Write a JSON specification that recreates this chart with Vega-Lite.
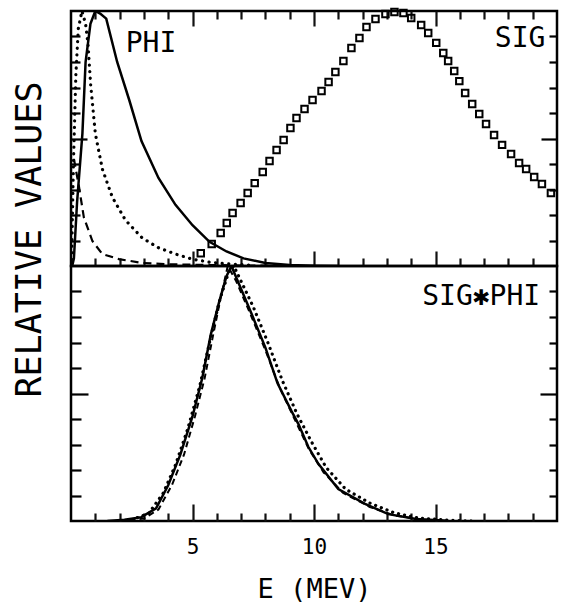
{
  "$schema": "https://vega.github.io/schema/vega-lite/v6.json",
  "padding": {"left": 10, "top": 3, "right": 5, "bottom": 0},
  "config": {
    "view": {"stroke": "#000", "strokeWidth": 2.5},
    "font": "DejaVu Sans Mono",
    "axis": {"domain": false, "grid": false, "tickColor": "#000", "tickWidth": 2.2, "labelColor": "#000", "titleColor": "#000", "labelFont": "DejaVu Sans Mono", "titleFont": "DejaVu Sans Mono", "titleFontWeight": "normal"},
    "text": {"font": "DejaVu Sans Mono", "color": "#000"}
  },
  "spacing": 0,
  "bounds": "flush",
  "datasets": {
    "phi": [
      {"E": 0.05, "v": 0, "curve": "solid"}, {"E": 0.12, "v": 0.03, "curve": "solid"}, {"E": 0.25, "v": 0.25, "curve": "solid"}, {"E": 0.47, "v": 0.52, "curve": "solid"}, {"E": 0.6, "v": 0.8, "curve": "solid"}, {"E": 0.8, "v": 0.95, "curve": "solid"}, {"E": 1.0, "v": 1.0, "curve": "solid"}, {"E": 1.2, "v": 0.99, "curve": "solid"}, {"E": 1.45, "v": 0.97, "curve": "solid"}, {"E": 1.9, "v": 0.8, "curve": "solid"}, {"E": 2.4, "v": 0.65, "curve": "solid"}, {"E": 2.9, "v": 0.49, "curve": "solid"}, {"E": 3.6, "v": 0.345, "curve": "solid"}, {"E": 4.3, "v": 0.24, "curve": "solid"}, {"E": 5.0, "v": 0.16, "curve": "solid"}, {"E": 5.7, "v": 0.095, "curve": "solid"}, {"E": 6.4, "v": 0.057, "curve": "solid"}, {"E": 7.1, "v": 0.03, "curve": "solid"}, {"E": 8.0, "v": 0.012, "curve": "solid"}, {"E": 9.0, "v": 0.004, "curve": "solid"}, {"E": 10.0, "v": 0.001, "curve": "solid"}, {"E": 11.0, "v": 0, "curve": "solid"},
      {"E": 0.02, "v": 0, "curve": "dotted"}, {"E": 0.1, "v": 0.4, "curve": "dotted"}, {"E": 0.2, "v": 0.75, "curve": "dotted"}, {"E": 0.3, "v": 0.93, "curve": "dotted"}, {"E": 0.45, "v": 1.0, "curve": "dotted"}, {"E": 0.6, "v": 0.95, "curve": "dotted"}, {"E": 0.7, "v": 0.87, "curve": "dotted"}, {"E": 0.81, "v": 0.71, "curve": "dotted"}, {"E": 1.0, "v": 0.52, "curve": "dotted"}, {"E": 1.29, "v": 0.38, "curve": "dotted"}, {"E": 1.7, "v": 0.27, "curve": "dotted"}, {"E": 2.24, "v": 0.18, "curve": "dotted"}, {"E": 2.93, "v": 0.11, "curve": "dotted"}, {"E": 3.61, "v": 0.071, "curve": "dotted"}, {"E": 4.3, "v": 0.047, "curve": "dotted"}, {"E": 4.98, "v": 0.027, "curve": "dotted"}, {"E": 5.7, "v": 0.015, "curve": "dotted"}, {"E": 6.5, "v": 0.008, "curve": "dotted"}, {"E": 7.5, "v": 0.003, "curve": "dotted"},
      {"E": 0.12, "v": 0.42, "curve": "dashed"}, {"E": 0.33, "v": 0.31, "curve": "dashed"}, {"E": 0.53, "v": 0.19, "curve": "dashed"}, {"E": 0.88, "v": 0.098, "curve": "dashed"}, {"E": 1.29, "v": 0.047, "curve": "dashed"}, {"E": 1.97, "v": 0.027, "curve": "dashed"}, {"E": 2.93, "v": 0.012, "curve": "dashed"}, {"E": 4.0, "v": 0.007, "curve": "dashed"}, {"E": 5.5, "v": 0.004, "curve": "dashed"}, {"E": 7.0, "v": 0.002, "curve": "dashed"}, {"E": 8.5, "v": 0.001, "curve": "dashed"}
    ],
    "sig": [
      {"E": 5.34, "v": 0.05}, {"E": 5.79, "v": 0.086}, {"E": 6.16, "v": 0.129}, {"E": 6.41, "v": 0.169}, {"E": 6.65, "v": 0.208}, {"E": 6.98, "v": 0.247}, {"E": 7.27, "v": 0.286}, {"E": 7.56, "v": 0.325}, {"E": 7.89, "v": 0.369}, {"E": 8.17, "v": 0.412}, {"E": 8.46, "v": 0.455}, {"E": 8.75, "v": 0.494}, {"E": 9.03, "v": 0.541}, {"E": 9.28, "v": 0.58}, {"E": 9.61, "v": 0.616}, {"E": 9.94, "v": 0.651}, {"E": 10.31, "v": 0.686}, {"E": 10.6, "v": 0.722}, {"E": 10.88, "v": 0.761}, {"E": 11.21, "v": 0.804}, {"E": 11.54, "v": 0.855}, {"E": 11.87, "v": 0.894}, {"E": 12.16, "v": 0.937}, {"E": 12.53, "v": 0.969}, {"E": 12.94, "v": 0.988}, {"E": 13.31, "v": 0.996}, {"E": 13.68, "v": 0.992}, {"E": 14.0, "v": 0.973}, {"E": 14.41, "v": 0.945}, {"E": 14.7, "v": 0.914}, {"E": 15.03, "v": 0.875}, {"E": 15.32, "v": 0.835}, {"E": 15.52, "v": 0.804}, {"E": 15.77, "v": 0.765}, {"E": 15.98, "v": 0.725}, {"E": 16.22, "v": 0.678}, {"E": 16.51, "v": 0.635}, {"E": 16.8, "v": 0.596}, {"E": 17.08, "v": 0.557}, {"E": 17.41, "v": 0.514}, {"E": 17.74, "v": 0.475}, {"E": 18.11, "v": 0.439}, {"E": 18.44, "v": 0.404}, {"E": 18.73, "v": 0.38}, {"E": 19.06, "v": 0.349}, {"E": 19.38, "v": 0.322}, {"E": 19.75, "v": 0.286}
    ],
    "prod": [
      {"E": 1.5, "v": 0, "curve": "solid"}, {"E": 2.2, "v": 0.005, "curve": "solid"}, {"E": 2.9, "v": 0.015, "curve": "solid"}, {"E": 3.5, "v": 0.05, "curve": "solid"}, {"E": 4.0, "v": 0.14, "curve": "solid"}, {"E": 4.5, "v": 0.26, "curve": "solid"}, {"E": 5.0, "v": 0.41, "curve": "solid"}, {"E": 5.4, "v": 0.56, "curve": "solid"}, {"E": 5.75, "v": 0.73, "curve": "solid"}, {"E": 6.1, "v": 0.86, "curve": "solid"}, {"E": 6.4, "v": 0.96, "curve": "solid"}, {"E": 6.6, "v": 1.0, "curve": "solid"}, {"E": 7.0, "v": 0.91, "curve": "solid"}, {"E": 7.4, "v": 0.82, "curve": "solid"}, {"E": 8.0, "v": 0.68, "curve": "solid"}, {"E": 8.5, "v": 0.54, "curve": "solid"}, {"E": 9.08, "v": 0.43, "curve": "solid"}, {"E": 9.36, "v": 0.38, "curve": "solid"}, {"E": 9.77, "v": 0.29, "curve": "solid"}, {"E": 10.18, "v": 0.224, "curve": "solid"}, {"E": 11.0, "v": 0.125, "curve": "solid"}, {"E": 12.1, "v": 0.067, "curve": "solid"}, {"E": 13.06, "v": 0.027, "curve": "solid"}, {"E": 14.2, "v": 0.008, "curve": "solid"}, {"E": 15.5, "v": 0.001, "curve": "solid"},
      {"E": 2.0, "v": 0, "curve": "dashed"}, {"E": 3.0, "v": 0.01, "curve": "dashed"}, {"E": 3.6, "v": 0.045, "curve": "dashed"}, {"E": 4.15, "v": 0.14, "curve": "dashed"}, {"E": 4.65, "v": 0.26, "curve": "dashed"}, {"E": 5.1, "v": 0.41, "curve": "dashed"}, {"E": 5.5, "v": 0.56, "curve": "dashed"}, {"E": 5.85, "v": 0.73, "curve": "dashed"}, {"E": 6.15, "v": 0.87, "curve": "dashed"}, {"E": 6.45, "v": 1.0, "curve": "dashed"}, {"E": 6.8, "v": 0.94, "curve": "dashed"}, {"E": 7.3, "v": 0.83, "curve": "dashed"}, {"E": 8.0, "v": 0.67, "curve": "dashed"}, {"E": 8.6, "v": 0.52, "curve": "dashed"}, {"E": 9.2, "v": 0.4, "curve": "dashed"}, {"E": 9.8, "v": 0.28, "curve": "dashed"}, {"E": 10.4, "v": 0.19, "curve": "dashed"}, {"E": 11.2, "v": 0.11, "curve": "dashed"}, {"E": 12.3, "v": 0.055, "curve": "dashed"}, {"E": 13.3, "v": 0.022, "curve": "dashed"}, {"E": 14.5, "v": 0.005, "curve": "dashed"}, {"E": 15.5, "v": 0, "curve": "dashed"},
      {"E": 2.5, "v": 0.005, "curve": "dotted"}, {"E": 3.2, "v": 0.03, "curve": "dotted"}, {"E": 3.8, "v": 0.11, "curve": "dotted"}, {"E": 4.3, "v": 0.22, "curve": "dotted"}, {"E": 4.8, "v": 0.36, "curve": "dotted"}, {"E": 5.3, "v": 0.53, "curve": "dotted"}, {"E": 5.7, "v": 0.7, "curve": "dotted"}, {"E": 6.1, "v": 0.86, "curve": "dotted"}, {"E": 6.5, "v": 0.98, "curve": "dotted"}, {"E": 6.7, "v": 1.0, "curve": "dotted"}, {"E": 7.1, "v": 0.92, "curve": "dotted"}, {"E": 7.5, "v": 0.84, "curve": "dotted"}, {"E": 8.1, "v": 0.7, "curve": "dotted"}, {"E": 8.7, "v": 0.55, "curve": "dotted"}, {"E": 9.3, "v": 0.42, "curve": "dotted"}, {"E": 9.9, "v": 0.31, "curve": "dotted"}, {"E": 10.5, "v": 0.21, "curve": "dotted"}, {"E": 11.3, "v": 0.125, "curve": "dotted"}, {"E": 12.3, "v": 0.07, "curve": "dotted"}, {"E": 13.3, "v": 0.032, "curve": "dotted"}, {"E": 14.3, "v": 0.012, "curve": "dotted"}, {"E": 15.5, "v": 0.003, "curve": "dotted"}, {"E": 16.5, "v": 0, "curve": "dotted"}
    ],
    "labels": [
      {"panel": "top", "label": "PHI"},
      {"panel": "top2", "label": "SIG"},
      {"panel": "bottom", "label": "SIG✱PHI"}
    ]
  },
  "vconcat": [
    {
      "width": 486,
      "height": 255,
      "resolve": {"axis": {"x": "independent", "y": "independent"}},
      "layer": [
        {
          "data": {"name": "phi"},
          "transform": [{"filter": "datum.curve === 'solid'"}],
          "mark": {"type": "line", "stroke": "#000", "strokeWidth": 2.5, "clip": true},
          "encoding": {
            "x": {"field": "E", "type": "quantitative", "scale": {"domain": [0, 20], "nice": false},
              "axis": {"orient": "bottom", "values": [1,2,3,4,6,7,8,9,11,12,13,14,16,17,18,19], "labels": false, "title": null,
                "ticks": true, "tickColor": "#111111", "offset": -8, "tickSize": 8}},
            "y": {"field": "v", "type": "quantitative", "scale": {"domain": [0, 1], "nice": false},
              "axis": {"orient": "left", "values": [0.1,0.2,0.3,0.4,0.5,0.6,0.7,0.8,0.9], "labels": false,
                "tickSize": {"condition": {"test": "abs(datum.value - 0.5) < 0.01", "value": -16}, "value": -9},
                "title": "RELATIVE VALUES", "titleFontSize": 35, "titleX": -42, "titleY": 228, "titleAngle": -90, "titleBaseline": "middle", "titleAlign": "center"}}
          }
        },
        {
          "data": {"name": "phi"},
          "transform": [{"filter": "datum.curve === 'dotted'"}],
          "mark": {"type": "line", "stroke": "#000", "strokeWidth": 3.2, "strokeDash": [0.1, 6.5], "strokeCap": "round", "clip": true},
          "encoding": {
            "x": {"field": "E", "type": "quantitative",
              "axis": {"orient": "bottom", "values": [5, 10, 15], "labels": false, "title": null, "ticks": true, "tickColor": "#111111", "offset": -15, "tickSize": 15}},
            "y": {"field": "v", "type": "quantitative", "axis": null}
          }
        },
        {
          "data": {"name": "phi"},
          "transform": [{"filter": "datum.curve === 'dashed'"}],
          "mark": {"type": "line", "stroke": "#000", "strokeWidth": 2.2, "strokeDash": [8, 5], "clip": true},
          "encoding": {
            "x": {"field": "E", "type": "quantitative",
              "axis": {"orient": "top", "values": [1,2,3,4,6,7,8,9,11,12,13,14,16,17,18,19], "labels": false, "title": null, "ticks": true, "tickColor": "#111111", "offset": -8, "tickSize": 8}},
            "y": {"field": "v", "type": "quantitative", "axis": null}
          }
        },
        {
          "data": {"name": "sig"},
          "mark": {"type": "point", "shape": "square", "filled": false, "stroke": "#000", "strokeWidth": 2, "size": 42, "opacity": 1},
          "encoding": {
            "x": {"field": "E", "type": "quantitative",
              "axis": {"orient": "top", "values": [5, 10, 15], "labels": false, "title": null, "ticks": true, "tickColor": "#111111", "offset": -15, "tickSize": 15}},
            "y": {"field": "v", "type": "quantitative",
              "axis": {"orient": "right", "values": [0.1,0.2,0.3,0.4,0.5,0.6,0.7,0.8,0.9], "labels": false, "title": null,
                "tickSize": {"condition": {"test": "abs(datum.value - 0.5) < 0.01", "value": -16}, "value": -8}}}
          }
        },
        {
          "data": {"name": "labels"},
          "transform": [{"filter": "datum.panel === 'top'"}],
          "mark": {"type": "text", "fontSize": 28, "align": "center", "baseline": "middle"},
          "encoding": {
            "text": {"field": "label"},
            "x": {"datum": 3.29, "type": "quantitative", "axis": null},
            "y": {"datum": 0.87, "type": "quantitative", "axis": null}
          }
        },
        {
          "data": {"name": "labels"},
          "transform": [{"filter": "datum.panel === 'top2'"}],
          "mark": {"type": "text", "fontSize": 28, "align": "center", "baseline": "middle"},
          "encoding": {
            "text": {"field": "label"},
            "x": {"datum": 18.48, "type": "quantitative", "axis": null},
            "y": {"datum": 0.89, "type": "quantitative", "axis": null}
          }
        }
      ]
    },
    {
      "width": 486,
      "height": 255,
      "resolve": {"axis": {"x": "independent", "y": "independent"}},
      "layer": [
        {
          "data": {"name": "prod"},
          "transform": [{"filter": "datum.curve === 'solid'"}],
          "mark": {"type": "line", "stroke": "#000", "strokeWidth": 2.5, "clip": true},
          "encoding": {
            "x": {"field": "E", "type": "quantitative", "scale": {"domain": [0, 20], "nice": false},
              "axis": {"orient": "bottom", "values": [1,2,3,4,6,7,8,9,11,12,13,14,16,17,18,19], "labels": false, "title": null,
                "ticks": true, "tickColor": "#111111", "offset": -8, "tickSize": 8}},
            "y": {"field": "v", "type": "quantitative", "scale": {"domain": [0, 1], "nice": false},
              "axis": {"orient": "left", "values": [0.1,0.2,0.3,0.4,0.5,0.6,0.7,0.8,0.9], "labels": false, "title": null,
                "tickSize": {"condition": {"test": "abs(datum.value - 0.5) < 0.01", "value": -17}, "value": -10}}}
          }
        },
        {
          "data": {"name": "prod"},
          "transform": [{"filter": "datum.curve === 'dashed'"}],
          "mark": {"type": "line", "stroke": "#000", "strokeWidth": 2, "strokeDash": [6, 4], "clip": true},
          "encoding": {
            "x": {"field": "E", "type": "quantitative",
              "axis": {"orient": "bottom", "values": [5, 10, 15], "ticks": true, "tickColor": "#111111", "offset": -17, "tickSize": 17,
                "labelFontSize": 21, "labelPadding": 15, "labelFlush": false,
                "title": "E (MEV)", "titleFontSize": 27, "titleY": 85, "titleBaseline": "middle"}},
            "y": {"field": "v", "type": "quantitative", "axis": null}
          }
        },
        {
          "data": {"name": "prod"},
          "transform": [{"filter": "datum.curve === 'dotted'"}],
          "mark": {"type": "line", "stroke": "#000", "strokeWidth": 3.2, "strokeDash": [0.1, 6], "strokeCap": "round", "clip": true},
          "encoding": {
            "x": {"field": "E", "type": "quantitative", "axis": null},
            "y": {"field": "v", "type": "quantitative",
              "axis": {"orient": "right", "values": [0.1,0.2,0.3,0.4,0.5,0.6,0.7,0.8,0.9], "labels": false, "title": null,
                "tickSize": {"condition": {"test": "abs(datum.value - 0.5) < 0.01", "value": -17}, "value": -8}}}
          }
        },
        {
          "data": {"name": "labels"},
          "transform": [{"filter": "datum.panel === 'bottom'"}],
          "mark": {"type": "text", "fontSize": 28, "align": "center", "baseline": "middle"},
          "encoding": {
            "text": {"field": "label"},
            "x": {"datum": 16.88, "type": "quantitative", "axis": null},
            "y": {"datum": 0.88, "type": "quantitative", "axis": null}
          }
        }
      ]
    }
  ]
}
